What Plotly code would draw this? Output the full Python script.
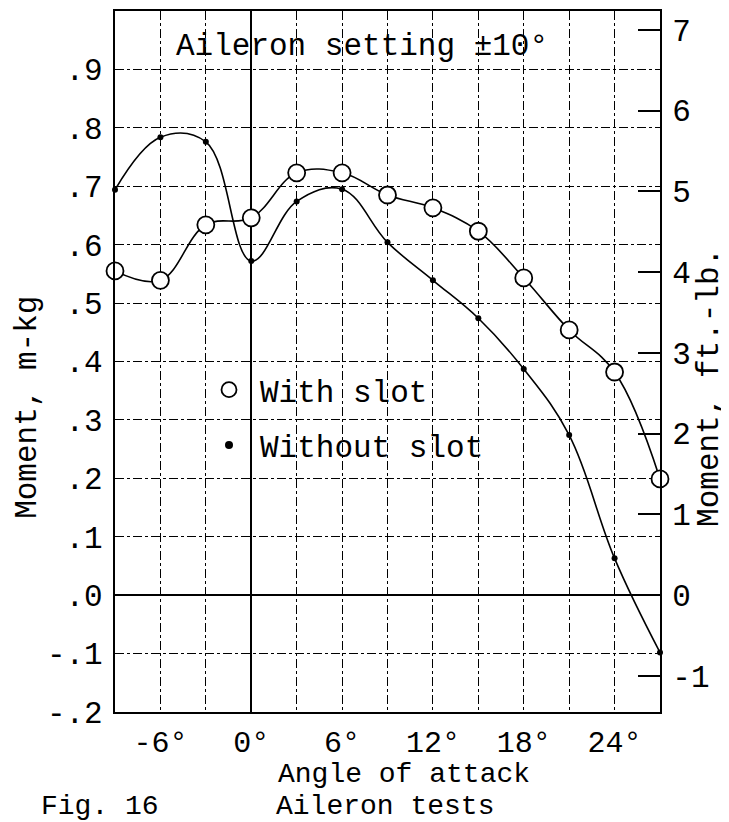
import plotly.graph_objects as go

# ---- data ----
angle_slot = [-9, -6, -3, 0, 3, 6, 9, 12, 15, 18, 21, 24, 27]
moment_slot = [0.555, 0.539, 0.634, 0.646, 0.723, 0.723, 0.685, 0.663, 0.623, 0.543, 0.454, 0.382, 0.199]

angle_noslot = [-9, -6, -3, 0, 3, 6, 9, 12, 15, 18, 21, 24, 27]
moment_noslot = [0.694, 0.784, 0.776, 0.572, 0.674, 0.695, 0.604, 0.539, 0.474, 0.387, 0.274, 0.063, -0.098]

x_grid_vals = [-9, -6, -3, 0, 3, 6, 9, 12, 15, 18, 21, 24, 27]
x_tick_text = ["", "-6°", "", "0°", "", "6°", "", "12°", "", "18°", "", "24°", ""]
y_tick_vals = [-0.2, -0.1, 0.0, 0.1, 0.2, 0.3, 0.4, 0.5, 0.6, 0.7, 0.8, 0.9]
y_tick_text = ["-.2", "-.1", ".0", ".1", ".2", ".3", ".4", ".5", ".6", ".7", ".8", ".9"]
y2_tick_vals = [-1, 0, 1, 2, 3, 4, 5, 6, 7]
y2_tick_text = ["-1", "0", "1", "2", "3", "4", "5", "6", "7"]
FTLB_PER_MKG = 7.233

FONT = "Liberation Mono"
FS = 31
FS_BOTTOM = 28

# page offset (browser body margin)
OFF = 8
# plot area in image px
L, R, T, B = 115, 660, 9, 712
W, H = 729 - OFF, 822 - OFF

def px(xp):
    return (xp - L) / (R - L)

def py(yp):
    return (B - yp) / (B - T)

fig = go.Figure()

fig.add_trace(go.Scatter(
    x=angle_slot, y=moment_slot, mode="lines+markers",
    line=dict(color="black", width=1.6, shape="spline", smoothing=1.1),
    marker=dict(symbol="circle", size=17, color="white", line=dict(color="black", width=1.8)),
    showlegend=False, cliponaxis=False,
))
fig.add_trace(go.Scatter(
    x=angle_noslot, y=moment_noslot, mode="lines+markers",
    line=dict(color="black", width=1.6, shape="spline", smoothing=1.1),
    marker=dict(symbol="circle", size=6, color="black"),
    showlegend=False, cliponaxis=False,
))
# legend-only entries
fig.add_trace(go.Scatter(
    x=[None], y=[None], mode="markers", name="With slot", legendgroup="a",
    marker=dict(symbol="circle", size=15, color="white", line=dict(color="black", width=1.8)),
))
fig.add_trace(go.Scatter(
    x=[None], y=[None], mode="markers", name="Without slot", legendgroup="b",
    marker=dict(symbol="circle", size=8, color="black"),
))
# invisible trace to activate right axis
fig.add_trace(go.Scatter(x=[None], y=[None], yaxis="y2", showlegend=False))

fig.update_layout(
    width=W, height=H,
    margin=dict(l=L - OFF, r=W - (R - OFF), t=T - OFF, b=H - (B - OFF)),
    paper_bgcolor="white", plot_bgcolor="white",
    font=dict(family=FONT, size=FS, color="black"),
    showlegend=True,
    legend=dict(
        x=px(198), y=py(362), xanchor="left", yanchor="top",
        bgcolor="rgba(0,0,0,0)", borderwidth=0,
        font=dict(family=FONT, size=FS, color="black"),
        itemwidth=52, tracegroupgap=12, traceorder="grouped",
    ),
    xaxis=dict(
        range=[-9, 27], tickvals=x_grid_vals, ticktext=x_tick_text,
        ticks="", showgrid=True, gridcolor="black", gridwidth=1, griddash="dashdot",
        zeroline=True, zerolinecolor="black", zerolinewidth=2.2,
        showline=True, linecolor="black", linewidth=2.2, mirror=True,
        ticklabelstandoff=2,
        tickfont=dict(family=FONT, size=30),
    ),
    yaxis=dict(
        range=[-0.2, 1.0], tickvals=y_tick_vals, ticktext=y_tick_text,
        ticks="", showgrid=True, gridcolor="black", gridwidth=1, griddash="dashdot",
        zeroline=True, zerolinecolor="black", zerolinewidth=2.2,
        showline=True, linecolor="black", linewidth=2.2, mirror=True,
        ticklabelstandoff=4,
        tickfont=dict(family=FONT, size=FS),
    ),
    yaxis2=dict(
        overlaying="y", side="right",
        range=[-0.2 * FTLB_PER_MKG, 1.0 * FTLB_PER_MKG],
        tickvals=y2_tick_vals, ticktext=y2_tick_text,
        ticks="inside", ticklen=22, tickwidth=1.5, tickcolor="black",
        showgrid=False, zeroline=False,
        showline=True, linecolor="black", linewidth=2.2,
        ticklabelstandoff=4,
        tickfont=dict(family=FONT, size=FS),
    ),
)

annotations = [
    dict(text="Aileron setting ±10°", x=px(362), y=py(45), size=FS),
    dict(text="Moment, m-kg", x=px(28), y=py(407), textangle=-90, size=FS),
    dict(text="Moment, ft.-lb.", x=px(710), y=py(386), textangle=-90, size=FS),
    dict(text="Angle of attack", x=px(404), y=py(775), size=FS_BOTTOM),
    dict(text="Fig. 16", x=px(100), y=py(807), size=FS_BOTTOM),
    dict(text="Aileron tests", x=px(385), y=py(807), size=FS_BOTTOM),
]
for a in annotations:
    size = a.pop("size")
    fig.add_annotation(xref="paper", yref="paper", showarrow=False,
                       xanchor="center", yanchor="middle",
                       font=dict(family=FONT, size=size, color="black"), **a)

fig.write_html("out.html")
